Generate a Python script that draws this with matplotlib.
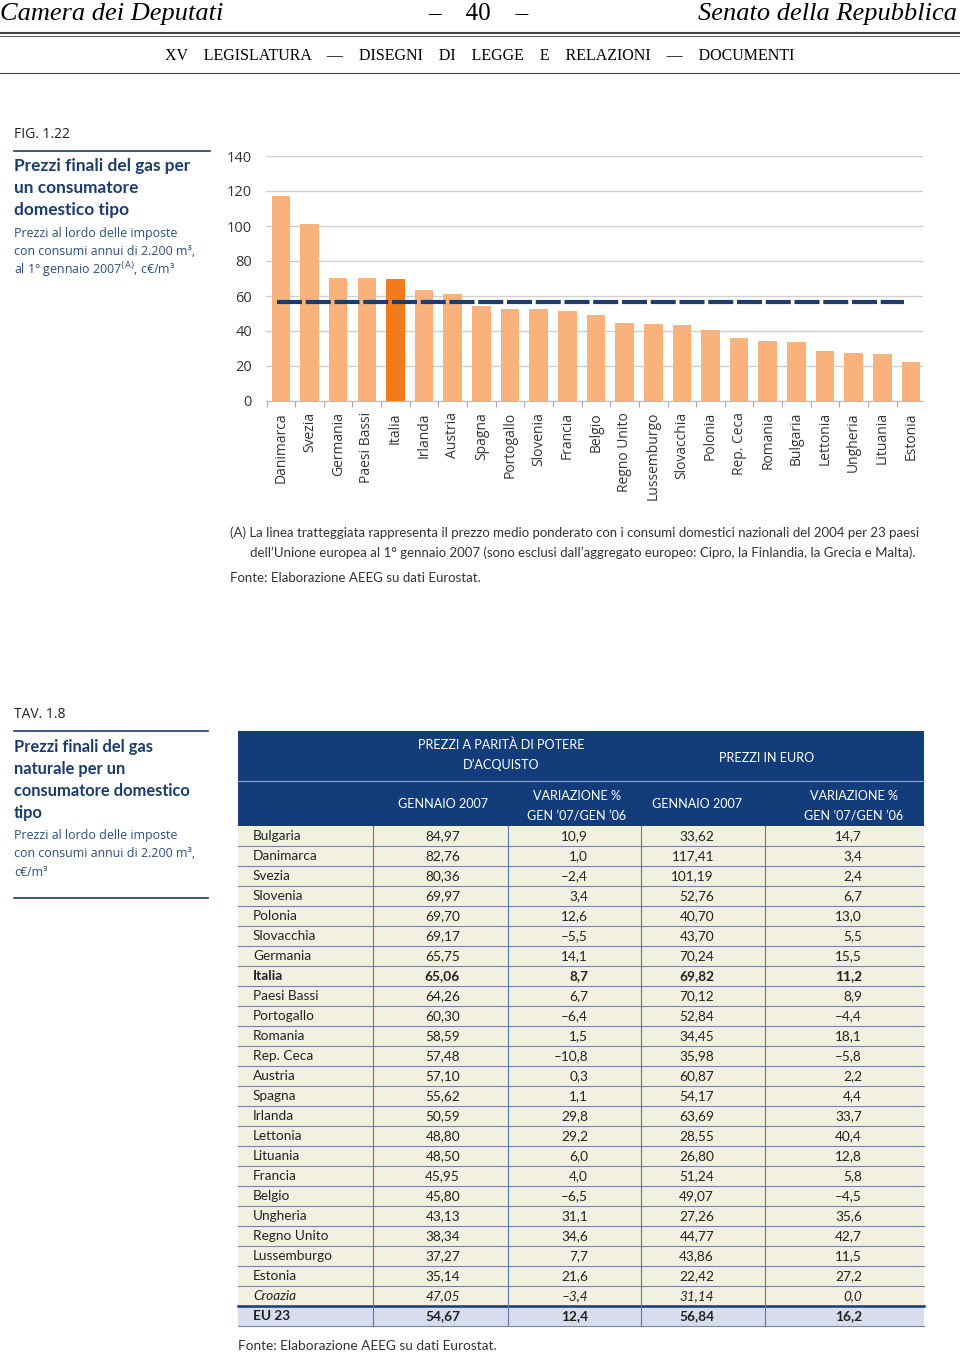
import matplotlib
matplotlib.use("Agg")
import matplotlib.pyplot as plt
from matplotlib.patches import Rectangle

# ---- data (Tav. 1.8) ----
countries = ["Bulgaria", "Danimarca", "Svezia", "Slovenia", "Polonia", "Slovacchia",
             "Germania", "Italia", "Paesi Bassi", "Portogallo", "Romania", "Rep. Ceca",
             "Austria", "Spagna", "Irlanda", "Lettonia", "Lituania", "Francia", "Belgio",
             "Ungheria", "Regno Unito", "Lussemburgo", "Estonia", "Croazia", "EU 23"]
ppa_2007 = [84.97, 82.76, 80.36, 69.97, 69.70, 69.17, 65.75, 65.06, 64.26, 60.30, 58.59,
            57.48, 57.10, 55.62, 50.59, 48.80, 48.50, 45.95, 45.80, 43.13, 38.34, 37.27,
            35.14, 47.05, 54.67]
ppa_var = [10.9, 1.0, -2.4, 3.4, 12.6, -5.5, 14.1, 8.7, 6.7, -6.4, 1.5, -10.8, 0.3, 1.1,
           29.8, 29.2, 6.0, 4.0, -6.5, 31.1, 34.6, 7.7, 21.6, -3.4, 12.4]
eur_2007 = [33.62, 117.41, 101.19, 52.76, 40.70, 43.70, 70.24, 69.82, 70.12, 52.84, 34.45,
            35.98, 60.87, 54.17, 63.69, 28.55, 26.80, 51.24, 49.07, 27.26, 44.77, 43.86,
            22.42, 31.14, 56.84]
eur_var = [14.7, 3.4, 2.4, 6.7, 13.0, 5.5, 15.5, 11.2, 8.9, -4.4, 18.1, -5.8, 2.2, 4.4,
           33.7, 40.4, 12.8, 5.8, -4.5, 35.6, 42.7, 11.5, 27.2, 0.0, 16.2]

# chart (Fig. 1.22): euro prices of the 23 EU countries, sorted, plus EU 23 average
members = [(c, v) for c, v in zip(countries, eur_2007) if c not in ("Croazia", "EU 23")]
members.sort(key=lambda t: -t[1])
bar_labels = [c for c, v in members]
bar_values = [v for c, v in members]
eu_avg = eur_2007[countries.index("EU 23")]
yticks = [0, 20, 40, 60, 80, 100, 120, 140]

NAVY = "#1b3c6c"
HEAD = "#133d7a"
LIGHT = "#f9b27c"
DARK = "#f07c1e"
SANS = ["Open Sans", "DejaVu Sans"]
NARROW = ["Lato", "DejaVu Sans"]
SERIF = ["Liberation Serif", "DejaVu Serif"]


def fmt(v, nd):
    s = f"{v:.{nd}f}".replace(".", ",")
    return s.replace("-", "\u2013")


fig = plt.figure(figsize=(9.6, 13.54), dpi=100)
renderer = fig.canvas.get_renderer()


def fit(t, width):
    # scale a text so that it spans the given width in pixels
    w = t.get_window_extent(renderer).width
    t.set_fontsize(t.get_fontsize() * width / w)
    return t.get_fontsize()


# page overlay in pixel coordinates
pg = fig.add_axes([0, 0, 1, 1])
pg.set_xlim(0, 960)
pg.set_ylim(1354, 0)
pg.axis("off")

# page header
pg.text(0, 14, "Camera dei Deputati", family=SERIF, style="italic", fontsize=19, va="center")
pg.text(478, 14, "\u2013    40    \u2013", family=SERIF, fontsize=18, va="center", ha="center")
pg.text(957, 14, "Senato della Repubblica", family=SERIF, style="italic", fontsize=19,
        va="center", ha="right")
pg.plot([0, 960], [32.5, 32.5], color="#444", lw=1.5)
pg.plot([0, 960], [35.8, 35.8], color="#444", lw=0.6)
pg.text(480, 56, "XV    LEGISLATURA    \u2014    DISEGNI    DI    LEGGE    E    RELAZIONI    "
        "\u2014    DOCUMENTI", family=SERIF, fontsize=11.5, va="center", ha="center")
pg.plot([0, 960], [73, 73], color="#444", lw=0.8)

# ---- sidebar for the figure ----
pg.text(14, 135, "FIG. 1.22", family=SANS, fontsize=10, va="center", color="#222")
pg.plot([14, 210], [151, 151], color=NAVY, lw=1.2)
title1 = ["Prezzi finali del gas per", "un consumatore", "domestico tipo"]
tts = [pg.text(14, 166 + 22 * i, line, family=NARROW, weight="bold", fontsize=12,
               va="center", color=NAVY) for i, line in enumerate(title1)]
fs = fit(tts[0], 175)
for tt in tts:
    tt.set_fontsize(fs)
sub1 = ["Prezzi al lordo delle imposte", "con consumi annui di 2.200 m\u00b3,",
        "al 1\u00b0 gennaio 2007$^{\\rm (A)}$, c\u20ac/m\u00b3"]
for i, line in enumerate(sub1):
    pg.text(14, 233 + 18.5 * i, line, family=SANS, fontsize=8.9, va="center", color="#2b4f80")

# ---- bar chart ----
ax = fig.add_axes([266 / 960, 1 - 401 / 1354, 657 / 960, 245 / 1354])
ax.patch.set_alpha(0)
x = list(range(len(bar_values)))
colors = [DARK if c == "Italia" else LIGHT for c in bar_labels]
ax.bar(x, bar_values, width=0.65, color=colors, zorder=2)
ax.hlines(eu_avg, -0.15, len(x) - 1.25, color=NAVY, lw=3, linestyles=(0, (6, 0.9)),
          zorder=3)
ax.set_xlim(-0.52, len(x) - 0.58)
ax.set_ylim(0, 140)
ax.set_yticks(yticks)
ax.set_yticklabels([str(t) for t in yticks], family=SANS, fontsize=10.5, color="#333")
ax.set_xticks(x)
ax.set_xticklabels(bar_labels, rotation=90, family=SANS, fontsize=10, color="#333")
ax.set_xticks([i - 0.5 for i in range(len(x))], minor=True)
ax.tick_params(axis="x", which="major", length=0, pad=8)
ax.tick_params(axis="x", which="minor", length=4, color="#aaa", width=0.8)
ax.tick_params(axis="y", length=0, pad=10)
ax.grid(axis="y", color="#cfcfcf", lw=1, zorder=0)
for s in ["top", "right", "left"]:
    ax.spines[s].set_visible(False)
ax.spines["bottom"].set_color("#bbb")

# footnote
t = pg.text(230, 533, "(A) La linea tratteggiata rappresenta il prezzo medio ponderato con i "
            "consumi domestici nazionali del 2004 per 23 paesi", family=NARROW, fontsize=9.5,
            va="center", color="#333")
fs = fit(t, 694)
pg.text(250, 553, "dell\u2019Unione europea al 1\u00b0 gennaio 2007 (sono esclusi dall\u2019aggregato "
        "europeo: Cipro, la Finlandia, la Grecia e Malta).", family=NARROW, fontsize=fs,
        va="center", color="#333")
pg.text(230, 578, "Fonte: Elaborazione AEEG su dati Eurostat.", family=NARROW, fontsize=fs,
        va="center", color="#333")

# ---- sidebar for the table ----
pg.text(14, 715, "TAV. 1.8", family=SANS, fontsize=10, va="center", color="#222")
pg.plot([14, 208], [731, 731], color=NAVY, lw=1.2)
title2 = ["Prezzi finali del gas", "naturale per un", "consumatore domestico", "tipo"]
tts = [pg.text(14, 747 + 22 * i, line, family=NARROW, weight="bold", fontsize=12,
               va="center", color=NAVY) for i, line in enumerate(title2)]
fs = fit(tts[2], 176)
for tt in tts:
    tt.set_fontsize(fs)
sub2 = ["Prezzi al lordo delle imposte", "con consumi annui di 2.200 m\u00b3,", "c\u20ac/m\u00b3"]
for i, line in enumerate(sub2):
    pg.text(14, 835 + 18.5 * i, line, family=SANS, fontsize=8.9, va="center", color="#2b4f80")
pg.plot([14, 208], [898, 898], color=NAVY, lw=1.2)

# ---- table ----
tx0, tx1 = 238, 924
col_sep = [373, 508, 641, 765]
col_right = [460, 588, 714, 862]
top, h1, h2, rh = 731, 49, 46, 20
pg.add_patch(Rectangle((tx0, top), tx1 - tx0, h1 + h2, color=HEAD, lw=0))
pg.plot([tx0, tx1], [top + h1 + 0.5, top + h1 + 0.5], color="#8fa8cc", lw=0.8)
hk = dict(family=NARROW, fontsize=10, color="white", ha="center", va="center")
t = pg.text(501, 745, "PREZZI A PARIT\u00c0 DI POTERE", **hk)
hk["fontsize"] = fit(t, 165)
pg.text(501, 765, "D\u2019ACQUISTO", **hk)
pg.text(767, 758, "PREZZI IN EURO", **hk)
pg.text(443, 804, "GENNAIO 2007", **hk)
pg.text(697, 804, "GENNAIO 2007", **hk)
for cx in (577, 854):
    pg.text(cx, 796, "VARIAZIONE %", **hk)
    pg.text(cx, 816, "GEN \u201907/GEN \u201906", **hk)

body0 = top + h1 + h2
n = len(countries)
for i, c in enumerate(countries):
    y0 = body0 + i * rh
    is_eu = c == "EU 23"
    pg.add_patch(Rectangle((tx0, y0), tx1 - tx0, rh, color="#d8dcec" if is_eu else "#f2f0e0",
                           lw=0, zorder=0))
    pg.plot([tx0, tx1], [y0 + rh, y0 + rh], color="#7489a8", lw=0.8)
    weight = "bold" if c in ("Italia", "EU 23") else "normal"
    style = "italic" if c == "Croazia" else "normal"
    kw = dict(family=NARROW, fontsize=9.8, color="#222", va="center", weight=weight,
              style=style)
    pg.text(253, y0 + rh / 2, c, **kw)
    vals = [fmt(ppa_2007[i], 2), fmt(ppa_var[i], 1), fmt(eur_2007[i], 2), fmt(eur_var[i], 1)]
    for xr, s in zip(col_right, vals):
        pg.text(xr, y0 + rh / 2, s, ha="right", **kw)
pg.plot([tx0, tx1], [body0 + (n - 1) * rh, body0 + (n - 1) * rh], color=HEAD, lw=1.8)
for xs in col_sep:
    pg.plot([xs, xs], [body0, body0 + n * rh], color="#5d7aa6", lw=0.8)

pg.text(238, 1346, "Fonte: Elaborazione AEEG su dati Eurostat.", family=NARROW, fontsize=9.8,
        va="center", color="#333")

fig.savefig("out.png", dpi=100)
